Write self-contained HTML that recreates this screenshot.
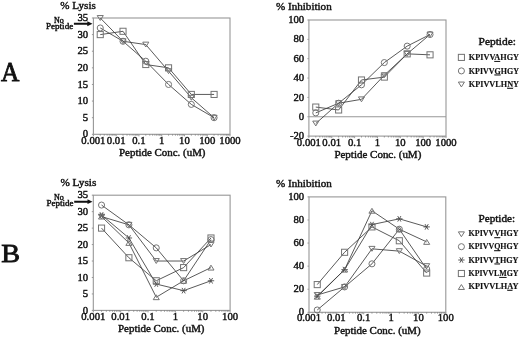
<!DOCTYPE html>
<html><head><meta charset="utf-8"><style>
html,body{margin:0;padding:0;background:#fff;}
body{width:520px;height:337px;overflow:hidden;}
svg{display:block;filter:grayscale(1) blur(0.25px);}
</style></head><body>
<svg width="520" height="337" viewBox="0 0 520 337" font-family='"Liberation Serif", serif' fill="#111">
<rect width="520" height="337" fill="#fff"/>
<g opacity="0.999">
<rect x="93.40" y="18.00" width="136.60" height="116.30" fill="none" stroke="#979797" stroke-width="1.1"/>
<line x1="91.90" y1="134.30" x2="93.40" y2="134.30" stroke="#979797" stroke-width="1"/>
<text x="88.20" y="137.40" font-size="10" text-anchor="end" font-weight="normal" stroke="#111" stroke-width="0.4" textLength="5.35" lengthAdjust="spacingAndGlyphs" >0</text>
<line x1="91.90" y1="117.69" x2="93.40" y2="117.69" stroke="#979797" stroke-width="1"/>
<text x="88.20" y="120.79" font-size="10" text-anchor="end" font-weight="normal" stroke="#111" stroke-width="0.4" textLength="5.35" lengthAdjust="spacingAndGlyphs" >5</text>
<line x1="91.90" y1="101.07" x2="93.40" y2="101.07" stroke="#979797" stroke-width="1"/>
<text x="88.20" y="104.17" font-size="10" text-anchor="end" font-weight="normal" stroke="#111" stroke-width="0.4" textLength="10.70" lengthAdjust="spacingAndGlyphs" >10</text>
<line x1="91.90" y1="84.46" x2="93.40" y2="84.46" stroke="#979797" stroke-width="1"/>
<text x="88.20" y="87.56" font-size="10" text-anchor="end" font-weight="normal" stroke="#111" stroke-width="0.4" textLength="10.70" lengthAdjust="spacingAndGlyphs" >15</text>
<line x1="91.90" y1="67.84" x2="93.40" y2="67.84" stroke="#979797" stroke-width="1"/>
<text x="88.20" y="70.94" font-size="10" text-anchor="end" font-weight="normal" stroke="#111" stroke-width="0.4" textLength="10.70" lengthAdjust="spacingAndGlyphs" >20</text>
<line x1="91.90" y1="51.23" x2="93.40" y2="51.23" stroke="#979797" stroke-width="1"/>
<text x="88.20" y="54.33" font-size="10" text-anchor="end" font-weight="normal" stroke="#111" stroke-width="0.4" textLength="10.70" lengthAdjust="spacingAndGlyphs" >25</text>
<line x1="91.90" y1="34.61" x2="93.40" y2="34.61" stroke="#979797" stroke-width="1"/>
<text x="88.20" y="37.71" font-size="10" text-anchor="end" font-weight="normal" stroke="#111" stroke-width="0.4" textLength="10.70" lengthAdjust="spacingAndGlyphs" >30</text>
<line x1="91.90" y1="18.00" x2="93.40" y2="18.00" stroke="#979797" stroke-width="1"/>
<text x="88.20" y="21.10" font-size="10" text-anchor="end" font-weight="normal" stroke="#111" stroke-width="0.4" textLength="10.70" lengthAdjust="spacingAndGlyphs" >35</text>
<line x1="93.40" y1="134.30" x2="93.40" y2="136.30" stroke="#979797" stroke-width="1"/>
<line x1="100.25" y1="134.30" x2="100.25" y2="135.70" stroke="#777" stroke-width="0.7"/>
<line x1="104.26" y1="134.30" x2="104.26" y2="135.70" stroke="#777" stroke-width="0.7"/>
<line x1="107.11" y1="134.30" x2="107.11" y2="135.70" stroke="#777" stroke-width="0.7"/>
<line x1="109.31" y1="134.30" x2="109.31" y2="135.70" stroke="#777" stroke-width="0.7"/>
<line x1="111.12" y1="134.30" x2="111.12" y2="135.70" stroke="#777" stroke-width="0.7"/>
<line x1="112.64" y1="134.30" x2="112.64" y2="135.70" stroke="#777" stroke-width="0.7"/>
<line x1="113.96" y1="134.30" x2="113.96" y2="135.70" stroke="#777" stroke-width="0.7"/>
<line x1="115.12" y1="134.30" x2="115.12" y2="135.70" stroke="#777" stroke-width="0.7"/>
<text x="93.40" y="143.60" font-size="10" text-anchor="middle" font-weight="normal" stroke="#111" stroke-width="0.4" textLength="24.08" lengthAdjust="spacingAndGlyphs" >0.001</text>
<line x1="116.17" y1="134.30" x2="116.17" y2="136.30" stroke="#979797" stroke-width="1"/>
<line x1="123.02" y1="134.30" x2="123.02" y2="135.70" stroke="#777" stroke-width="0.7"/>
<line x1="127.03" y1="134.30" x2="127.03" y2="135.70" stroke="#777" stroke-width="0.7"/>
<line x1="129.87" y1="134.30" x2="129.87" y2="135.70" stroke="#777" stroke-width="0.7"/>
<line x1="132.08" y1="134.30" x2="132.08" y2="135.70" stroke="#777" stroke-width="0.7"/>
<line x1="133.88" y1="134.30" x2="133.88" y2="135.70" stroke="#777" stroke-width="0.7"/>
<line x1="135.41" y1="134.30" x2="135.41" y2="135.70" stroke="#777" stroke-width="0.7"/>
<line x1="136.73" y1="134.30" x2="136.73" y2="135.70" stroke="#777" stroke-width="0.7"/>
<line x1="137.89" y1="134.30" x2="137.89" y2="135.70" stroke="#777" stroke-width="0.7"/>
<text x="116.17" y="143.60" font-size="10" text-anchor="middle" font-weight="normal" stroke="#111" stroke-width="0.4" textLength="18.73" lengthAdjust="spacingAndGlyphs" >0.01</text>
<line x1="138.93" y1="134.30" x2="138.93" y2="136.30" stroke="#979797" stroke-width="1"/>
<line x1="145.79" y1="134.30" x2="145.79" y2="135.70" stroke="#777" stroke-width="0.7"/>
<line x1="149.80" y1="134.30" x2="149.80" y2="135.70" stroke="#777" stroke-width="0.7"/>
<line x1="152.64" y1="134.30" x2="152.64" y2="135.70" stroke="#777" stroke-width="0.7"/>
<line x1="154.85" y1="134.30" x2="154.85" y2="135.70" stroke="#777" stroke-width="0.7"/>
<line x1="156.65" y1="134.30" x2="156.65" y2="135.70" stroke="#777" stroke-width="0.7"/>
<line x1="158.17" y1="134.30" x2="158.17" y2="135.70" stroke="#777" stroke-width="0.7"/>
<line x1="159.49" y1="134.30" x2="159.49" y2="135.70" stroke="#777" stroke-width="0.7"/>
<line x1="160.66" y1="134.30" x2="160.66" y2="135.70" stroke="#777" stroke-width="0.7"/>
<text x="138.93" y="143.60" font-size="10" text-anchor="middle" font-weight="normal" stroke="#111" stroke-width="0.4" textLength="13.38" lengthAdjust="spacingAndGlyphs" >0.1</text>
<line x1="161.70" y1="134.30" x2="161.70" y2="136.30" stroke="#979797" stroke-width="1"/>
<line x1="168.55" y1="134.30" x2="168.55" y2="135.70" stroke="#777" stroke-width="0.7"/>
<line x1="172.56" y1="134.30" x2="172.56" y2="135.70" stroke="#777" stroke-width="0.7"/>
<line x1="175.41" y1="134.30" x2="175.41" y2="135.70" stroke="#777" stroke-width="0.7"/>
<line x1="177.61" y1="134.30" x2="177.61" y2="135.70" stroke="#777" stroke-width="0.7"/>
<line x1="179.42" y1="134.30" x2="179.42" y2="135.70" stroke="#777" stroke-width="0.7"/>
<line x1="180.94" y1="134.30" x2="180.94" y2="135.70" stroke="#777" stroke-width="0.7"/>
<line x1="182.26" y1="134.30" x2="182.26" y2="135.70" stroke="#777" stroke-width="0.7"/>
<line x1="183.42" y1="134.30" x2="183.42" y2="135.70" stroke="#777" stroke-width="0.7"/>
<text x="161.70" y="143.60" font-size="10" text-anchor="middle" font-weight="normal" stroke="#111" stroke-width="0.4" textLength="5.35" lengthAdjust="spacingAndGlyphs" >1</text>
<line x1="184.47" y1="134.30" x2="184.47" y2="136.30" stroke="#979797" stroke-width="1"/>
<line x1="191.32" y1="134.30" x2="191.32" y2="135.70" stroke="#777" stroke-width="0.7"/>
<line x1="195.33" y1="134.30" x2="195.33" y2="135.70" stroke="#777" stroke-width="0.7"/>
<line x1="198.17" y1="134.30" x2="198.17" y2="135.70" stroke="#777" stroke-width="0.7"/>
<line x1="200.38" y1="134.30" x2="200.38" y2="135.70" stroke="#777" stroke-width="0.7"/>
<line x1="202.18" y1="134.30" x2="202.18" y2="135.70" stroke="#777" stroke-width="0.7"/>
<line x1="203.71" y1="134.30" x2="203.71" y2="135.70" stroke="#777" stroke-width="0.7"/>
<line x1="205.03" y1="134.30" x2="205.03" y2="135.70" stroke="#777" stroke-width="0.7"/>
<line x1="206.19" y1="134.30" x2="206.19" y2="135.70" stroke="#777" stroke-width="0.7"/>
<text x="184.47" y="143.60" font-size="10" text-anchor="middle" font-weight="normal" stroke="#111" stroke-width="0.4" textLength="10.70" lengthAdjust="spacingAndGlyphs" >10</text>
<line x1="207.23" y1="134.30" x2="207.23" y2="136.30" stroke="#979797" stroke-width="1"/>
<line x1="214.09" y1="134.30" x2="214.09" y2="135.70" stroke="#777" stroke-width="0.7"/>
<line x1="218.10" y1="134.30" x2="218.10" y2="135.70" stroke="#777" stroke-width="0.7"/>
<line x1="220.94" y1="134.30" x2="220.94" y2="135.70" stroke="#777" stroke-width="0.7"/>
<line x1="223.15" y1="134.30" x2="223.15" y2="135.70" stroke="#777" stroke-width="0.7"/>
<line x1="224.95" y1="134.30" x2="224.95" y2="135.70" stroke="#777" stroke-width="0.7"/>
<line x1="226.47" y1="134.30" x2="226.47" y2="135.70" stroke="#777" stroke-width="0.7"/>
<line x1="227.79" y1="134.30" x2="227.79" y2="135.70" stroke="#777" stroke-width="0.7"/>
<line x1="228.96" y1="134.30" x2="228.96" y2="135.70" stroke="#777" stroke-width="0.7"/>
<text x="207.23" y="143.60" font-size="10" text-anchor="middle" font-weight="normal" stroke="#111" stroke-width="0.4" textLength="16.05" lengthAdjust="spacingAndGlyphs" >100</text>
<line x1="230.00" y1="134.30" x2="230.00" y2="136.30" stroke="#979797" stroke-width="1"/>
<text x="230.00" y="143.60" font-size="10" text-anchor="middle" font-weight="normal" stroke="#111" stroke-width="0.4" textLength="21.40" lengthAdjust="spacingAndGlyphs" >1000</text>
<path d="M100.25,34.61 L123.02,31.29 L145.79,64.52 L168.55,67.84 L191.32,94.43 L214.09,94.43" fill="none" stroke="#3c3c3c" stroke-width="0.85"/>
<path d="M100.25,27.97 L123.02,41.26 L145.79,61.20 L168.55,84.46 L191.32,104.39 L214.09,117.69" fill="none" stroke="#3c3c3c" stroke-width="0.85"/>
<path d="M100.25,18.00 L123.02,41.26 L145.79,44.58 L168.55,71.17 L191.32,97.75 L214.09,117.69" fill="none" stroke="#3c3c3c" stroke-width="0.85"/>
<rect x="97.20" y="31.56" width="6.10" height="6.10" fill="none" stroke="#737373" stroke-width="1.0"/>
<rect x="119.97" y="28.24" width="6.10" height="6.10" fill="none" stroke="#737373" stroke-width="1.0"/>
<rect x="142.74" y="61.47" width="6.10" height="6.10" fill="none" stroke="#737373" stroke-width="1.0"/>
<rect x="165.50" y="64.79" width="6.10" height="6.10" fill="none" stroke="#737373" stroke-width="1.0"/>
<rect x="188.27" y="91.38" width="6.10" height="6.10" fill="none" stroke="#737373" stroke-width="1.0"/>
<rect x="211.04" y="91.38" width="6.10" height="6.10" fill="none" stroke="#737373" stroke-width="1.0"/>
<circle cx="100.25" cy="27.97" r="3.05" fill="none" stroke="#737373" stroke-width="1.0"/>
<circle cx="123.02" cy="41.26" r="3.05" fill="none" stroke="#737373" stroke-width="1.0"/>
<circle cx="145.79" cy="61.20" r="3.05" fill="none" stroke="#737373" stroke-width="1.0"/>
<circle cx="168.55" cy="84.46" r="3.05" fill="none" stroke="#737373" stroke-width="1.0"/>
<circle cx="191.32" cy="104.39" r="3.05" fill="none" stroke="#737373" stroke-width="1.0"/>
<circle cx="214.09" cy="117.69" r="3.05" fill="none" stroke="#737373" stroke-width="1.0"/>
<path d="M97.20,15.56 L103.30,15.56 L100.25,20.44 Z" fill="none" stroke="#737373" stroke-width="1.0"/>
<path d="M119.97,38.82 L126.07,38.82 L123.02,43.70 Z" fill="none" stroke="#737373" stroke-width="1.0"/>
<path d="M142.74,42.14 L148.84,42.14 L145.79,47.02 Z" fill="none" stroke="#737373" stroke-width="1.0"/>
<path d="M165.50,68.73 L171.60,68.73 L168.55,73.61 Z" fill="none" stroke="#737373" stroke-width="1.0"/>
<path d="M188.27,95.31 L194.37,95.31 L191.32,100.19 Z" fill="none" stroke="#737373" stroke-width="1.0"/>
<path d="M211.04,115.25 L217.14,115.25 L214.09,120.13 Z" fill="none" stroke="#737373" stroke-width="1.0"/>
<text x="60.30" y="8.70" font-size="10" text-anchor="start" font-weight="normal" stroke="#111" stroke-width="0.4" textLength="35.50" lengthAdjust="spacingAndGlyphs" >% Lysis</text>
<text x="58.80" y="22.50" font-size="8" text-anchor="middle" font-weight="normal" stroke="#111" stroke-width="0.4" >No</text>
<text x="46.00" y="28.50" font-size="8" text-anchor="start" font-weight="normal" stroke="#111" stroke-width="0.4" textLength="27.20" lengthAdjust="spacingAndGlyphs" >Peptide</text>
<path d="M73.9,22.7 L87.3,22.7 L87.3,21.2 L92.5,23.7 L87.3,26.2 L87.3,24.8 L73.9,24.8 Z" fill="#111"/>
<rect x="308.90" y="20.00" width="137.10" height="116.10" fill="none" stroke="#979797" stroke-width="1.1"/>
<line x1="308.90" y1="116.75" x2="446.00" y2="116.75" stroke="#979797" stroke-width="1.1"/>
<line x1="307.40" y1="136.10" x2="308.90" y2="136.10" stroke="#979797" stroke-width="1"/>
<text x="304.20" y="139.20" font-size="10" text-anchor="end" font-weight="normal" stroke="#111" stroke-width="0.4" textLength="14.26" lengthAdjust="spacingAndGlyphs" >-20</text>
<line x1="307.40" y1="116.75" x2="308.90" y2="116.75" stroke="#979797" stroke-width="1"/>
<text x="304.20" y="119.85" font-size="10" text-anchor="end" font-weight="normal" stroke="#111" stroke-width="0.4" textLength="5.35" lengthAdjust="spacingAndGlyphs" >0</text>
<line x1="307.40" y1="97.40" x2="308.90" y2="97.40" stroke="#979797" stroke-width="1"/>
<text x="304.20" y="100.50" font-size="10" text-anchor="end" font-weight="normal" stroke="#111" stroke-width="0.4" textLength="10.70" lengthAdjust="spacingAndGlyphs" >20</text>
<line x1="307.40" y1="78.05" x2="308.90" y2="78.05" stroke="#979797" stroke-width="1"/>
<text x="304.20" y="81.15" font-size="10" text-anchor="end" font-weight="normal" stroke="#111" stroke-width="0.4" textLength="10.70" lengthAdjust="spacingAndGlyphs" >40</text>
<line x1="307.40" y1="58.70" x2="308.90" y2="58.70" stroke="#979797" stroke-width="1"/>
<text x="304.20" y="61.80" font-size="10" text-anchor="end" font-weight="normal" stroke="#111" stroke-width="0.4" textLength="10.70" lengthAdjust="spacingAndGlyphs" >60</text>
<line x1="307.40" y1="39.35" x2="308.90" y2="39.35" stroke="#979797" stroke-width="1"/>
<text x="304.20" y="42.45" font-size="10" text-anchor="end" font-weight="normal" stroke="#111" stroke-width="0.4" textLength="10.70" lengthAdjust="spacingAndGlyphs" >80</text>
<line x1="307.40" y1="20.00" x2="308.90" y2="20.00" stroke="#979797" stroke-width="1"/>
<text x="304.20" y="23.10" font-size="10" text-anchor="end" font-weight="normal" stroke="#111" stroke-width="0.4" textLength="16.05" lengthAdjust="spacingAndGlyphs" >100</text>
<line x1="308.90" y1="136.10" x2="308.90" y2="138.10" stroke="#979797" stroke-width="1"/>
<line x1="315.78" y1="136.10" x2="315.78" y2="137.50" stroke="#777" stroke-width="0.7"/>
<line x1="319.80" y1="136.10" x2="319.80" y2="137.50" stroke="#777" stroke-width="0.7"/>
<line x1="322.66" y1="136.10" x2="322.66" y2="137.50" stroke="#777" stroke-width="0.7"/>
<line x1="324.87" y1="136.10" x2="324.87" y2="137.50" stroke="#777" stroke-width="0.7"/>
<line x1="326.68" y1="136.10" x2="326.68" y2="137.50" stroke="#777" stroke-width="0.7"/>
<line x1="328.21" y1="136.10" x2="328.21" y2="137.50" stroke="#777" stroke-width="0.7"/>
<line x1="329.54" y1="136.10" x2="329.54" y2="137.50" stroke="#777" stroke-width="0.7"/>
<line x1="330.70" y1="136.10" x2="330.70" y2="137.50" stroke="#777" stroke-width="0.7"/>
<text x="308.90" y="146.20" font-size="10" text-anchor="middle" font-weight="normal" stroke="#111" stroke-width="0.4" textLength="24.08" lengthAdjust="spacingAndGlyphs" >0.001</text>
<line x1="331.75" y1="136.10" x2="331.75" y2="138.10" stroke="#979797" stroke-width="1"/>
<line x1="338.63" y1="136.10" x2="338.63" y2="137.50" stroke="#777" stroke-width="0.7"/>
<line x1="342.65" y1="136.10" x2="342.65" y2="137.50" stroke="#777" stroke-width="0.7"/>
<line x1="345.51" y1="136.10" x2="345.51" y2="137.50" stroke="#777" stroke-width="0.7"/>
<line x1="347.72" y1="136.10" x2="347.72" y2="137.50" stroke="#777" stroke-width="0.7"/>
<line x1="349.53" y1="136.10" x2="349.53" y2="137.50" stroke="#777" stroke-width="0.7"/>
<line x1="351.06" y1="136.10" x2="351.06" y2="137.50" stroke="#777" stroke-width="0.7"/>
<line x1="352.39" y1="136.10" x2="352.39" y2="137.50" stroke="#777" stroke-width="0.7"/>
<line x1="353.55" y1="136.10" x2="353.55" y2="137.50" stroke="#777" stroke-width="0.7"/>
<text x="331.75" y="146.20" font-size="10" text-anchor="middle" font-weight="normal" stroke="#111" stroke-width="0.4" textLength="18.73" lengthAdjust="spacingAndGlyphs" >0.01</text>
<line x1="354.60" y1="136.10" x2="354.60" y2="138.10" stroke="#979797" stroke-width="1"/>
<line x1="361.48" y1="136.10" x2="361.48" y2="137.50" stroke="#777" stroke-width="0.7"/>
<line x1="365.50" y1="136.10" x2="365.50" y2="137.50" stroke="#777" stroke-width="0.7"/>
<line x1="368.36" y1="136.10" x2="368.36" y2="137.50" stroke="#777" stroke-width="0.7"/>
<line x1="370.57" y1="136.10" x2="370.57" y2="137.50" stroke="#777" stroke-width="0.7"/>
<line x1="372.38" y1="136.10" x2="372.38" y2="137.50" stroke="#777" stroke-width="0.7"/>
<line x1="373.91" y1="136.10" x2="373.91" y2="137.50" stroke="#777" stroke-width="0.7"/>
<line x1="375.24" y1="136.10" x2="375.24" y2="137.50" stroke="#777" stroke-width="0.7"/>
<line x1="376.40" y1="136.10" x2="376.40" y2="137.50" stroke="#777" stroke-width="0.7"/>
<text x="354.60" y="146.20" font-size="10" text-anchor="middle" font-weight="normal" stroke="#111" stroke-width="0.4" textLength="13.38" lengthAdjust="spacingAndGlyphs" >0.1</text>
<line x1="377.45" y1="136.10" x2="377.45" y2="138.10" stroke="#979797" stroke-width="1"/>
<line x1="384.33" y1="136.10" x2="384.33" y2="137.50" stroke="#777" stroke-width="0.7"/>
<line x1="388.35" y1="136.10" x2="388.35" y2="137.50" stroke="#777" stroke-width="0.7"/>
<line x1="391.21" y1="136.10" x2="391.21" y2="137.50" stroke="#777" stroke-width="0.7"/>
<line x1="393.42" y1="136.10" x2="393.42" y2="137.50" stroke="#777" stroke-width="0.7"/>
<line x1="395.23" y1="136.10" x2="395.23" y2="137.50" stroke="#777" stroke-width="0.7"/>
<line x1="396.76" y1="136.10" x2="396.76" y2="137.50" stroke="#777" stroke-width="0.7"/>
<line x1="398.09" y1="136.10" x2="398.09" y2="137.50" stroke="#777" stroke-width="0.7"/>
<line x1="399.25" y1="136.10" x2="399.25" y2="137.50" stroke="#777" stroke-width="0.7"/>
<text x="377.45" y="146.20" font-size="10" text-anchor="middle" font-weight="normal" stroke="#111" stroke-width="0.4" textLength="5.35" lengthAdjust="spacingAndGlyphs" >1</text>
<line x1="400.30" y1="136.10" x2="400.30" y2="138.10" stroke="#979797" stroke-width="1"/>
<line x1="407.18" y1="136.10" x2="407.18" y2="137.50" stroke="#777" stroke-width="0.7"/>
<line x1="411.20" y1="136.10" x2="411.20" y2="137.50" stroke="#777" stroke-width="0.7"/>
<line x1="414.06" y1="136.10" x2="414.06" y2="137.50" stroke="#777" stroke-width="0.7"/>
<line x1="416.27" y1="136.10" x2="416.27" y2="137.50" stroke="#777" stroke-width="0.7"/>
<line x1="418.08" y1="136.10" x2="418.08" y2="137.50" stroke="#777" stroke-width="0.7"/>
<line x1="419.61" y1="136.10" x2="419.61" y2="137.50" stroke="#777" stroke-width="0.7"/>
<line x1="420.94" y1="136.10" x2="420.94" y2="137.50" stroke="#777" stroke-width="0.7"/>
<line x1="422.10" y1="136.10" x2="422.10" y2="137.50" stroke="#777" stroke-width="0.7"/>
<text x="400.30" y="146.20" font-size="10" text-anchor="middle" font-weight="normal" stroke="#111" stroke-width="0.4" textLength="10.70" lengthAdjust="spacingAndGlyphs" >10</text>
<line x1="423.15" y1="136.10" x2="423.15" y2="138.10" stroke="#979797" stroke-width="1"/>
<line x1="430.03" y1="136.10" x2="430.03" y2="137.50" stroke="#777" stroke-width="0.7"/>
<line x1="434.05" y1="136.10" x2="434.05" y2="137.50" stroke="#777" stroke-width="0.7"/>
<line x1="436.91" y1="136.10" x2="436.91" y2="137.50" stroke="#777" stroke-width="0.7"/>
<line x1="439.12" y1="136.10" x2="439.12" y2="137.50" stroke="#777" stroke-width="0.7"/>
<line x1="440.93" y1="136.10" x2="440.93" y2="137.50" stroke="#777" stroke-width="0.7"/>
<line x1="442.46" y1="136.10" x2="442.46" y2="137.50" stroke="#777" stroke-width="0.7"/>
<line x1="443.79" y1="136.10" x2="443.79" y2="137.50" stroke="#777" stroke-width="0.7"/>
<line x1="444.95" y1="136.10" x2="444.95" y2="137.50" stroke="#777" stroke-width="0.7"/>
<text x="423.15" y="146.20" font-size="10" text-anchor="middle" font-weight="normal" stroke="#111" stroke-width="0.4" textLength="16.05" lengthAdjust="spacingAndGlyphs" >100</text>
<line x1="446.00" y1="136.10" x2="446.00" y2="138.10" stroke="#979797" stroke-width="1"/>
<text x="446.00" y="146.20" font-size="10" text-anchor="middle" font-weight="normal" stroke="#111" stroke-width="0.4" textLength="21.40" lengthAdjust="spacingAndGlyphs" >1000</text>
<path d="M315.78,107.07 L338.63,109.98 L361.48,79.98 L384.33,77.08 L407.18,53.86 L430.03,54.83" fill="none" stroke="#3c3c3c" stroke-width="0.85"/>
<path d="M315.78,112.88 L338.63,103.20 L361.48,84.82 L384.33,62.57 L407.18,46.12 L430.03,34.51" fill="none" stroke="#3c3c3c" stroke-width="0.85"/>
<path d="M315.78,123.52 L338.63,103.20 L361.48,99.34 L384.33,75.15 L407.18,53.86 L430.03,34.51" fill="none" stroke="#3c3c3c" stroke-width="0.85"/>
<rect x="312.73" y="104.02" width="6.10" height="6.10" fill="none" stroke="#737373" stroke-width="1.0"/>
<rect x="335.58" y="106.93" width="6.10" height="6.10" fill="none" stroke="#737373" stroke-width="1.0"/>
<rect x="358.43" y="76.94" width="6.10" height="6.10" fill="none" stroke="#737373" stroke-width="1.0"/>
<rect x="381.28" y="74.03" width="6.10" height="6.10" fill="none" stroke="#737373" stroke-width="1.0"/>
<rect x="404.13" y="50.81" width="6.10" height="6.10" fill="none" stroke="#737373" stroke-width="1.0"/>
<rect x="426.98" y="51.78" width="6.10" height="6.10" fill="none" stroke="#737373" stroke-width="1.0"/>
<circle cx="315.78" cy="112.88" r="3.05" fill="none" stroke="#737373" stroke-width="1.0"/>
<circle cx="338.63" cy="103.20" r="3.05" fill="none" stroke="#737373" stroke-width="1.0"/>
<circle cx="361.48" cy="84.82" r="3.05" fill="none" stroke="#737373" stroke-width="1.0"/>
<circle cx="384.33" cy="62.57" r="3.05" fill="none" stroke="#737373" stroke-width="1.0"/>
<circle cx="407.18" cy="46.12" r="3.05" fill="none" stroke="#737373" stroke-width="1.0"/>
<circle cx="430.03" cy="34.51" r="3.05" fill="none" stroke="#737373" stroke-width="1.0"/>
<path d="M312.73,121.08 L318.83,121.08 L315.78,125.96 Z" fill="none" stroke="#737373" stroke-width="1.0"/>
<path d="M335.58,100.77 L341.68,100.77 L338.63,105.64 Z" fill="none" stroke="#737373" stroke-width="1.0"/>
<path d="M358.43,96.90 L364.53,96.90 L361.48,101.78 Z" fill="none" stroke="#737373" stroke-width="1.0"/>
<path d="M381.28,72.71 L387.38,72.71 L384.33,77.59 Z" fill="none" stroke="#737373" stroke-width="1.0"/>
<path d="M404.13,51.42 L410.23,51.42 L407.18,56.30 Z" fill="none" stroke="#737373" stroke-width="1.0"/>
<path d="M426.98,32.07 L433.08,32.07 L430.03,36.95 Z" fill="none" stroke="#737373" stroke-width="1.0"/>
<text x="276.00" y="10.10" font-size="10" text-anchor="start" font-weight="normal" stroke="#111" stroke-width="0.4" textLength="55.70" lengthAdjust="spacingAndGlyphs" >% Inhibition</text>
<text x="334.40" y="157.70" font-size="10" text-anchor="start" font-weight="normal" stroke="#111" stroke-width="0.4" textLength="86.90" lengthAdjust="spacingAndGlyphs" >Peptide Conc. (uM)</text>
<text x="119.00" y="156.30" font-size="10" text-anchor="start" font-weight="normal" stroke="#111" stroke-width="0.4" textLength="86.50" lengthAdjust="spacingAndGlyphs" >Peptide Conc. (uM)</text>
<text x="478.60" y="45.00" font-size="10" text-anchor="start" font-weight="normal" stroke="#111" stroke-width="0.4" textLength="37.30" lengthAdjust="spacingAndGlyphs" >Peptide:</text>
<rect x="458.35" y="54.35" width="6.10" height="6.10" fill="none" stroke="#737373" stroke-width="1.0"/>
<text x="468.80" y="60.00" font-size="9" text-anchor="start" font-weight="bold" stroke="#111" stroke-width="0.4" textLength="50.20" lengthAdjust="spacingAndGlyphs" style="stroke-width:0.15">KPIVV<tspan text-decoration="underline">A</tspan>HGY</text>
<circle cx="461.40" cy="70.90" r="3.05" fill="none" stroke="#737373" stroke-width="1.0"/>
<text x="468.80" y="73.50" font-size="9" text-anchor="start" font-weight="bold" stroke="#111" stroke-width="0.4" textLength="50.20" lengthAdjust="spacingAndGlyphs" style="stroke-width:0.15">KPIVV<tspan text-decoration="underline">G</tspan>HGY</text>
<path d="M458.35,82.06 L464.45,82.06 L461.40,86.94 Z" fill="none" stroke="#737373" stroke-width="1.0"/>
<text x="468.80" y="86.90" font-size="9" text-anchor="start" font-weight="bold" stroke="#111" stroke-width="0.4" textLength="50.20" lengthAdjust="spacingAndGlyphs" style="stroke-width:0.15">KPIVVLH<tspan text-decoration="underline">N</tspan>Y</text>
<rect x="93.30" y="195.20" width="136.80" height="115.20" fill="none" stroke="#979797" stroke-width="1.1"/>
<line x1="91.80" y1="310.40" x2="93.30" y2="310.40" stroke="#979797" stroke-width="1"/>
<text x="88.20" y="313.50" font-size="10" text-anchor="end" font-weight="normal" stroke="#111" stroke-width="0.4" textLength="5.35" lengthAdjust="spacingAndGlyphs" >0</text>
<line x1="91.80" y1="293.94" x2="93.30" y2="293.94" stroke="#979797" stroke-width="1"/>
<text x="88.20" y="297.04" font-size="10" text-anchor="end" font-weight="normal" stroke="#111" stroke-width="0.4" textLength="5.35" lengthAdjust="spacingAndGlyphs" >5</text>
<line x1="91.80" y1="277.49" x2="93.30" y2="277.49" stroke="#979797" stroke-width="1"/>
<text x="88.20" y="280.59" font-size="10" text-anchor="end" font-weight="normal" stroke="#111" stroke-width="0.4" textLength="10.70" lengthAdjust="spacingAndGlyphs" >10</text>
<line x1="91.80" y1="261.03" x2="93.30" y2="261.03" stroke="#979797" stroke-width="1"/>
<text x="88.20" y="264.13" font-size="10" text-anchor="end" font-weight="normal" stroke="#111" stroke-width="0.4" textLength="10.70" lengthAdjust="spacingAndGlyphs" >15</text>
<line x1="91.80" y1="244.57" x2="93.30" y2="244.57" stroke="#979797" stroke-width="1"/>
<text x="88.20" y="247.67" font-size="10" text-anchor="end" font-weight="normal" stroke="#111" stroke-width="0.4" textLength="10.70" lengthAdjust="spacingAndGlyphs" >20</text>
<line x1="91.80" y1="228.11" x2="93.30" y2="228.11" stroke="#979797" stroke-width="1"/>
<text x="88.20" y="231.21" font-size="10" text-anchor="end" font-weight="normal" stroke="#111" stroke-width="0.4" textLength="10.70" lengthAdjust="spacingAndGlyphs" >25</text>
<line x1="91.80" y1="211.66" x2="93.30" y2="211.66" stroke="#979797" stroke-width="1"/>
<text x="88.20" y="214.76" font-size="10" text-anchor="end" font-weight="normal" stroke="#111" stroke-width="0.4" textLength="10.70" lengthAdjust="spacingAndGlyphs" >30</text>
<line x1="91.80" y1="195.20" x2="93.30" y2="195.20" stroke="#979797" stroke-width="1"/>
<text x="88.20" y="198.30" font-size="10" text-anchor="end" font-weight="normal" stroke="#111" stroke-width="0.4" textLength="10.70" lengthAdjust="spacingAndGlyphs" >35</text>
<line x1="93.30" y1="310.40" x2="93.30" y2="312.40" stroke="#979797" stroke-width="1"/>
<line x1="101.54" y1="310.40" x2="101.54" y2="311.80" stroke="#777" stroke-width="0.7"/>
<line x1="106.35" y1="310.40" x2="106.35" y2="311.80" stroke="#777" stroke-width="0.7"/>
<line x1="109.77" y1="310.40" x2="109.77" y2="311.80" stroke="#777" stroke-width="0.7"/>
<line x1="112.42" y1="310.40" x2="112.42" y2="311.80" stroke="#777" stroke-width="0.7"/>
<line x1="114.59" y1="310.40" x2="114.59" y2="311.80" stroke="#777" stroke-width="0.7"/>
<line x1="116.42" y1="310.40" x2="116.42" y2="311.80" stroke="#777" stroke-width="0.7"/>
<line x1="118.01" y1="310.40" x2="118.01" y2="311.80" stroke="#777" stroke-width="0.7"/>
<line x1="119.41" y1="310.40" x2="119.41" y2="311.80" stroke="#777" stroke-width="0.7"/>
<text x="93.30" y="319.70" font-size="10" text-anchor="middle" font-weight="normal" stroke="#111" stroke-width="0.4" textLength="24.08" lengthAdjust="spacingAndGlyphs" >0.001</text>
<line x1="120.66" y1="310.40" x2="120.66" y2="312.40" stroke="#979797" stroke-width="1"/>
<line x1="128.90" y1="310.40" x2="128.90" y2="311.80" stroke="#777" stroke-width="0.7"/>
<line x1="133.71" y1="310.40" x2="133.71" y2="311.80" stroke="#777" stroke-width="0.7"/>
<line x1="137.13" y1="310.40" x2="137.13" y2="311.80" stroke="#777" stroke-width="0.7"/>
<line x1="139.78" y1="310.40" x2="139.78" y2="311.80" stroke="#777" stroke-width="0.7"/>
<line x1="141.95" y1="310.40" x2="141.95" y2="311.80" stroke="#777" stroke-width="0.7"/>
<line x1="143.78" y1="310.40" x2="143.78" y2="311.80" stroke="#777" stroke-width="0.7"/>
<line x1="145.37" y1="310.40" x2="145.37" y2="311.80" stroke="#777" stroke-width="0.7"/>
<line x1="146.77" y1="310.40" x2="146.77" y2="311.80" stroke="#777" stroke-width="0.7"/>
<text x="120.66" y="319.70" font-size="10" text-anchor="middle" font-weight="normal" stroke="#111" stroke-width="0.4" textLength="18.73" lengthAdjust="spacingAndGlyphs" >0.01</text>
<line x1="148.02" y1="310.40" x2="148.02" y2="312.40" stroke="#979797" stroke-width="1"/>
<line x1="156.26" y1="310.40" x2="156.26" y2="311.80" stroke="#777" stroke-width="0.7"/>
<line x1="161.07" y1="310.40" x2="161.07" y2="311.80" stroke="#777" stroke-width="0.7"/>
<line x1="164.49" y1="310.40" x2="164.49" y2="311.80" stroke="#777" stroke-width="0.7"/>
<line x1="167.14" y1="310.40" x2="167.14" y2="311.80" stroke="#777" stroke-width="0.7"/>
<line x1="169.31" y1="310.40" x2="169.31" y2="311.80" stroke="#777" stroke-width="0.7"/>
<line x1="171.14" y1="310.40" x2="171.14" y2="311.80" stroke="#777" stroke-width="0.7"/>
<line x1="172.73" y1="310.40" x2="172.73" y2="311.80" stroke="#777" stroke-width="0.7"/>
<line x1="174.13" y1="310.40" x2="174.13" y2="311.80" stroke="#777" stroke-width="0.7"/>
<text x="148.02" y="319.70" font-size="10" text-anchor="middle" font-weight="normal" stroke="#111" stroke-width="0.4" textLength="13.38" lengthAdjust="spacingAndGlyphs" >0.1</text>
<line x1="175.38" y1="310.40" x2="175.38" y2="312.40" stroke="#979797" stroke-width="1"/>
<line x1="183.62" y1="310.40" x2="183.62" y2="311.80" stroke="#777" stroke-width="0.7"/>
<line x1="188.43" y1="310.40" x2="188.43" y2="311.80" stroke="#777" stroke-width="0.7"/>
<line x1="191.85" y1="310.40" x2="191.85" y2="311.80" stroke="#777" stroke-width="0.7"/>
<line x1="194.50" y1="310.40" x2="194.50" y2="311.80" stroke="#777" stroke-width="0.7"/>
<line x1="196.67" y1="310.40" x2="196.67" y2="311.80" stroke="#777" stroke-width="0.7"/>
<line x1="198.50" y1="310.40" x2="198.50" y2="311.80" stroke="#777" stroke-width="0.7"/>
<line x1="200.09" y1="310.40" x2="200.09" y2="311.80" stroke="#777" stroke-width="0.7"/>
<line x1="201.49" y1="310.40" x2="201.49" y2="311.80" stroke="#777" stroke-width="0.7"/>
<text x="175.38" y="319.70" font-size="10" text-anchor="middle" font-weight="normal" stroke="#111" stroke-width="0.4" textLength="5.35" lengthAdjust="spacingAndGlyphs" >1</text>
<line x1="202.74" y1="310.40" x2="202.74" y2="312.40" stroke="#979797" stroke-width="1"/>
<line x1="210.98" y1="310.40" x2="210.98" y2="311.80" stroke="#777" stroke-width="0.7"/>
<line x1="215.79" y1="310.40" x2="215.79" y2="311.80" stroke="#777" stroke-width="0.7"/>
<line x1="219.21" y1="310.40" x2="219.21" y2="311.80" stroke="#777" stroke-width="0.7"/>
<line x1="221.86" y1="310.40" x2="221.86" y2="311.80" stroke="#777" stroke-width="0.7"/>
<line x1="224.03" y1="310.40" x2="224.03" y2="311.80" stroke="#777" stroke-width="0.7"/>
<line x1="225.86" y1="310.40" x2="225.86" y2="311.80" stroke="#777" stroke-width="0.7"/>
<line x1="227.45" y1="310.40" x2="227.45" y2="311.80" stroke="#777" stroke-width="0.7"/>
<line x1="228.85" y1="310.40" x2="228.85" y2="311.80" stroke="#777" stroke-width="0.7"/>
<text x="202.74" y="319.70" font-size="10" text-anchor="middle" font-weight="normal" stroke="#111" stroke-width="0.4" textLength="10.70" lengthAdjust="spacingAndGlyphs" >10</text>
<line x1="230.10" y1="310.40" x2="230.10" y2="312.40" stroke="#979797" stroke-width="1"/>
<text x="230.10" y="319.70" font-size="10" text-anchor="middle" font-weight="normal" stroke="#111" stroke-width="0.4" textLength="16.05" lengthAdjust="spacingAndGlyphs" >100</text>
<path d="M101.54,216.59 L128.90,224.82 L156.26,261.03 L183.62,261.03 L210.98,244.57" fill="none" stroke="#3c3c3c" stroke-width="0.85"/>
<path d="M101.54,205.07 L128.90,224.82 L156.26,247.86 L183.62,280.78 L210.98,239.63" fill="none" stroke="#3c3c3c" stroke-width="0.85"/>
<path d="M101.54,214.95 L128.90,237.99 L156.26,284.07 L183.62,290.65 L210.98,280.78" fill="none" stroke="#3c3c3c" stroke-width="0.85"/>
<path d="M101.54,228.11 L128.90,257.74 L156.26,280.78 L183.62,267.61 L210.98,237.99" fill="none" stroke="#3c3c3c" stroke-width="0.85"/>
<path d="M101.54,216.59 L128.90,242.93 L156.26,297.23 L183.62,280.78 L210.98,267.61" fill="none" stroke="#3c3c3c" stroke-width="0.85"/>
<path d="M98.49,214.15 L104.59,214.15 L101.54,219.03 Z" fill="none" stroke="#737373" stroke-width="1.0"/>
<path d="M125.85,222.38 L131.95,222.38 L128.90,227.26 Z" fill="none" stroke="#737373" stroke-width="1.0"/>
<path d="M153.21,258.59 L159.31,258.59 L156.26,263.47 Z" fill="none" stroke="#737373" stroke-width="1.0"/>
<path d="M180.57,258.59 L186.67,258.59 L183.62,263.47 Z" fill="none" stroke="#737373" stroke-width="1.0"/>
<path d="M207.93,242.13 L214.03,242.13 L210.98,247.01 Z" fill="none" stroke="#737373" stroke-width="1.0"/>
<circle cx="101.54" cy="205.07" r="3.05" fill="none" stroke="#737373" stroke-width="1.0"/>
<circle cx="128.90" cy="224.82" r="3.05" fill="none" stroke="#737373" stroke-width="1.0"/>
<circle cx="156.26" cy="247.86" r="3.05" fill="none" stroke="#737373" stroke-width="1.0"/>
<circle cx="183.62" cy="280.78" r="3.05" fill="none" stroke="#737373" stroke-width="1.0"/>
<circle cx="210.98" cy="239.63" r="3.05" fill="none" stroke="#737373" stroke-width="1.0"/>
<path d="M98.33,214.95 L104.74,214.95 M99.93,212.18 L103.14,217.72 M103.14,212.18 L99.93,217.72" fill="none" stroke="#4a4a4a" stroke-width="0.9"/>
<path d="M125.69,237.99 L132.10,237.99 M127.29,235.22 L130.50,240.76 M130.50,235.22 L127.29,240.76" fill="none" stroke="#4a4a4a" stroke-width="0.9"/>
<path d="M153.05,284.07 L159.46,284.07 M154.65,281.30 L157.86,286.84 M157.86,281.30 L154.65,286.84" fill="none" stroke="#4a4a4a" stroke-width="0.9"/>
<path d="M180.41,290.65 L186.82,290.65 M182.01,287.88 L185.22,293.42 M185.22,287.88 L182.01,293.42" fill="none" stroke="#4a4a4a" stroke-width="0.9"/>
<path d="M207.77,280.78 L214.18,280.78 M209.37,278.00 L212.58,283.55 M212.58,278.00 L209.37,283.55" fill="none" stroke="#4a4a4a" stroke-width="0.9"/>
<rect x="98.49" y="225.06" width="6.10" height="6.10" fill="none" stroke="#737373" stroke-width="1.0"/>
<rect x="125.85" y="254.69" width="6.10" height="6.10" fill="none" stroke="#737373" stroke-width="1.0"/>
<rect x="153.21" y="277.73" width="6.10" height="6.10" fill="none" stroke="#737373" stroke-width="1.0"/>
<rect x="180.57" y="264.56" width="6.10" height="6.10" fill="none" stroke="#737373" stroke-width="1.0"/>
<rect x="207.93" y="234.94" width="6.10" height="6.10" fill="none" stroke="#737373" stroke-width="1.0"/>
<path d="M98.49,219.03 L104.59,219.03 L101.54,214.15 Z" fill="none" stroke="#737373" stroke-width="1.0"/>
<path d="M125.85,245.37 L131.95,245.37 L128.90,240.49 Z" fill="none" stroke="#737373" stroke-width="1.0"/>
<path d="M153.21,299.67 L159.31,299.67 L156.26,294.79 Z" fill="none" stroke="#737373" stroke-width="1.0"/>
<path d="M180.57,283.22 L186.67,283.22 L183.62,278.34 Z" fill="none" stroke="#737373" stroke-width="1.0"/>
<path d="M207.93,270.05 L214.03,270.05 L210.98,265.17 Z" fill="none" stroke="#737373" stroke-width="1.0"/>
<text x="60.40" y="185.50" font-size="10" text-anchor="start" font-weight="normal" stroke="#111" stroke-width="0.4" textLength="36.00" lengthAdjust="spacingAndGlyphs" >% Lysis</text>
<text x="58.90" y="199.90" font-size="8" text-anchor="middle" font-weight="normal" stroke="#111" stroke-width="0.4" >No</text>
<text x="46.40" y="206.00" font-size="8" text-anchor="start" font-weight="normal" stroke="#111" stroke-width="0.4" textLength="27.00" lengthAdjust="spacingAndGlyphs" >Peptide</text>
<path d="M74.2,200.7 L87.5,200.7 L87.5,199.3 L92.5,201.7 L87.5,204.1 L87.5,202.7 L74.2,202.7 Z" fill="#111"/>
<text x="118.00" y="332.00" font-size="10" text-anchor="start" font-weight="normal" stroke="#111" stroke-width="0.4" textLength="86.50" lengthAdjust="spacingAndGlyphs" >Peptide Conc. (uM)</text>
<rect x="309.00" y="196.90" width="136.80" height="115.40" fill="none" stroke="#979797" stroke-width="1.1"/>
<line x1="307.50" y1="312.30" x2="309.00" y2="312.30" stroke="#979797" stroke-width="1"/>
<text x="304.20" y="315.40" font-size="10" text-anchor="end" font-weight="normal" stroke="#111" stroke-width="0.4" textLength="5.35" lengthAdjust="spacingAndGlyphs" >0</text>
<line x1="307.50" y1="289.22" x2="309.00" y2="289.22" stroke="#979797" stroke-width="1"/>
<text x="304.20" y="292.32" font-size="10" text-anchor="end" font-weight="normal" stroke="#111" stroke-width="0.4" textLength="10.70" lengthAdjust="spacingAndGlyphs" >20</text>
<line x1="307.50" y1="266.14" x2="309.00" y2="266.14" stroke="#979797" stroke-width="1"/>
<text x="304.20" y="269.24" font-size="10" text-anchor="end" font-weight="normal" stroke="#111" stroke-width="0.4" textLength="10.70" lengthAdjust="spacingAndGlyphs" >40</text>
<line x1="307.50" y1="243.06" x2="309.00" y2="243.06" stroke="#979797" stroke-width="1"/>
<text x="304.20" y="246.16" font-size="10" text-anchor="end" font-weight="normal" stroke="#111" stroke-width="0.4" textLength="10.70" lengthAdjust="spacingAndGlyphs" >60</text>
<line x1="307.50" y1="219.98" x2="309.00" y2="219.98" stroke="#979797" stroke-width="1"/>
<text x="304.20" y="223.08" font-size="10" text-anchor="end" font-weight="normal" stroke="#111" stroke-width="0.4" textLength="10.70" lengthAdjust="spacingAndGlyphs" >80</text>
<line x1="307.50" y1="196.90" x2="309.00" y2="196.90" stroke="#979797" stroke-width="1"/>
<text x="304.20" y="200.00" font-size="10" text-anchor="end" font-weight="normal" stroke="#111" stroke-width="0.4" textLength="16.05" lengthAdjust="spacingAndGlyphs" >100</text>
<line x1="309.00" y1="312.30" x2="309.00" y2="314.30" stroke="#979797" stroke-width="1"/>
<line x1="317.24" y1="312.30" x2="317.24" y2="313.70" stroke="#777" stroke-width="0.7"/>
<line x1="322.05" y1="312.30" x2="322.05" y2="313.70" stroke="#777" stroke-width="0.7"/>
<line x1="325.47" y1="312.30" x2="325.47" y2="313.70" stroke="#777" stroke-width="0.7"/>
<line x1="328.12" y1="312.30" x2="328.12" y2="313.70" stroke="#777" stroke-width="0.7"/>
<line x1="330.29" y1="312.30" x2="330.29" y2="313.70" stroke="#777" stroke-width="0.7"/>
<line x1="332.12" y1="312.30" x2="332.12" y2="313.70" stroke="#777" stroke-width="0.7"/>
<line x1="333.71" y1="312.30" x2="333.71" y2="313.70" stroke="#777" stroke-width="0.7"/>
<line x1="335.11" y1="312.30" x2="335.11" y2="313.70" stroke="#777" stroke-width="0.7"/>
<text x="309.00" y="321.20" font-size="10" text-anchor="middle" font-weight="normal" stroke="#111" stroke-width="0.4" textLength="24.08" lengthAdjust="spacingAndGlyphs" >0.001</text>
<line x1="336.36" y1="312.30" x2="336.36" y2="314.30" stroke="#979797" stroke-width="1"/>
<line x1="344.60" y1="312.30" x2="344.60" y2="313.70" stroke="#777" stroke-width="0.7"/>
<line x1="349.41" y1="312.30" x2="349.41" y2="313.70" stroke="#777" stroke-width="0.7"/>
<line x1="352.83" y1="312.30" x2="352.83" y2="313.70" stroke="#777" stroke-width="0.7"/>
<line x1="355.48" y1="312.30" x2="355.48" y2="313.70" stroke="#777" stroke-width="0.7"/>
<line x1="357.65" y1="312.30" x2="357.65" y2="313.70" stroke="#777" stroke-width="0.7"/>
<line x1="359.48" y1="312.30" x2="359.48" y2="313.70" stroke="#777" stroke-width="0.7"/>
<line x1="361.07" y1="312.30" x2="361.07" y2="313.70" stroke="#777" stroke-width="0.7"/>
<line x1="362.47" y1="312.30" x2="362.47" y2="313.70" stroke="#777" stroke-width="0.7"/>
<text x="336.36" y="321.20" font-size="10" text-anchor="middle" font-weight="normal" stroke="#111" stroke-width="0.4" textLength="18.73" lengthAdjust="spacingAndGlyphs" >0.01</text>
<line x1="363.72" y1="312.30" x2="363.72" y2="314.30" stroke="#979797" stroke-width="1"/>
<line x1="371.96" y1="312.30" x2="371.96" y2="313.70" stroke="#777" stroke-width="0.7"/>
<line x1="376.77" y1="312.30" x2="376.77" y2="313.70" stroke="#777" stroke-width="0.7"/>
<line x1="380.19" y1="312.30" x2="380.19" y2="313.70" stroke="#777" stroke-width="0.7"/>
<line x1="382.84" y1="312.30" x2="382.84" y2="313.70" stroke="#777" stroke-width="0.7"/>
<line x1="385.01" y1="312.30" x2="385.01" y2="313.70" stroke="#777" stroke-width="0.7"/>
<line x1="386.84" y1="312.30" x2="386.84" y2="313.70" stroke="#777" stroke-width="0.7"/>
<line x1="388.43" y1="312.30" x2="388.43" y2="313.70" stroke="#777" stroke-width="0.7"/>
<line x1="389.83" y1="312.30" x2="389.83" y2="313.70" stroke="#777" stroke-width="0.7"/>
<text x="363.72" y="321.20" font-size="10" text-anchor="middle" font-weight="normal" stroke="#111" stroke-width="0.4" textLength="13.38" lengthAdjust="spacingAndGlyphs" >0.1</text>
<line x1="391.08" y1="312.30" x2="391.08" y2="314.30" stroke="#979797" stroke-width="1"/>
<line x1="399.32" y1="312.30" x2="399.32" y2="313.70" stroke="#777" stroke-width="0.7"/>
<line x1="404.13" y1="312.30" x2="404.13" y2="313.70" stroke="#777" stroke-width="0.7"/>
<line x1="407.55" y1="312.30" x2="407.55" y2="313.70" stroke="#777" stroke-width="0.7"/>
<line x1="410.20" y1="312.30" x2="410.20" y2="313.70" stroke="#777" stroke-width="0.7"/>
<line x1="412.37" y1="312.30" x2="412.37" y2="313.70" stroke="#777" stroke-width="0.7"/>
<line x1="414.20" y1="312.30" x2="414.20" y2="313.70" stroke="#777" stroke-width="0.7"/>
<line x1="415.79" y1="312.30" x2="415.79" y2="313.70" stroke="#777" stroke-width="0.7"/>
<line x1="417.19" y1="312.30" x2="417.19" y2="313.70" stroke="#777" stroke-width="0.7"/>
<text x="391.08" y="321.20" font-size="10" text-anchor="middle" font-weight="normal" stroke="#111" stroke-width="0.4" textLength="5.35" lengthAdjust="spacingAndGlyphs" >1</text>
<line x1="418.44" y1="312.30" x2="418.44" y2="314.30" stroke="#979797" stroke-width="1"/>
<line x1="426.68" y1="312.30" x2="426.68" y2="313.70" stroke="#777" stroke-width="0.7"/>
<line x1="431.49" y1="312.30" x2="431.49" y2="313.70" stroke="#777" stroke-width="0.7"/>
<line x1="434.91" y1="312.30" x2="434.91" y2="313.70" stroke="#777" stroke-width="0.7"/>
<line x1="437.56" y1="312.30" x2="437.56" y2="313.70" stroke="#777" stroke-width="0.7"/>
<line x1="439.73" y1="312.30" x2="439.73" y2="313.70" stroke="#777" stroke-width="0.7"/>
<line x1="441.56" y1="312.30" x2="441.56" y2="313.70" stroke="#777" stroke-width="0.7"/>
<line x1="443.15" y1="312.30" x2="443.15" y2="313.70" stroke="#777" stroke-width="0.7"/>
<line x1="444.55" y1="312.30" x2="444.55" y2="313.70" stroke="#777" stroke-width="0.7"/>
<text x="418.44" y="321.20" font-size="10" text-anchor="middle" font-weight="normal" stroke="#111" stroke-width="0.4" textLength="10.70" lengthAdjust="spacingAndGlyphs" >10</text>
<line x1="445.80" y1="312.30" x2="445.80" y2="314.30" stroke="#979797" stroke-width="1"/>
<text x="445.80" y="321.20" font-size="10" text-anchor="middle" font-weight="normal" stroke="#111" stroke-width="0.4" textLength="16.05" lengthAdjust="spacingAndGlyphs" >100</text>
<path d="M317.24,294.99 L344.60,286.91 L371.96,248.83 L399.32,251.14 L426.68,266.14" fill="none" stroke="#3c3c3c" stroke-width="0.85"/>
<path d="M317.24,309.99 L344.60,286.91 L371.96,263.83 L399.32,229.21 L426.68,269.02" fill="none" stroke="#3c3c3c" stroke-width="0.85"/>
<path d="M317.24,296.14 L344.60,269.60 L371.96,224.60 L399.32,218.83 L426.68,226.90" fill="none" stroke="#3c3c3c" stroke-width="0.85"/>
<path d="M317.24,284.60 L344.60,252.29 L371.96,226.90 L399.32,240.75 L426.68,273.06" fill="none" stroke="#3c3c3c" stroke-width="0.85"/>
<path d="M317.24,296.72 L344.60,269.60 L371.96,210.75 L399.32,229.21 L426.68,241.91" fill="none" stroke="#3c3c3c" stroke-width="0.85"/>
<path d="M314.19,292.55 L320.29,292.55 L317.24,297.43 Z" fill="none" stroke="#737373" stroke-width="1.0"/>
<path d="M341.55,284.47 L347.65,284.47 L344.60,289.35 Z" fill="none" stroke="#737373" stroke-width="1.0"/>
<path d="M368.91,246.39 L375.01,246.39 L371.96,251.27 Z" fill="none" stroke="#737373" stroke-width="1.0"/>
<path d="M396.27,248.70 L402.37,248.70 L399.32,253.58 Z" fill="none" stroke="#737373" stroke-width="1.0"/>
<path d="M423.63,263.70 L429.73,263.70 L426.68,268.58 Z" fill="none" stroke="#737373" stroke-width="1.0"/>
<circle cx="317.24" cy="309.99" r="3.05" fill="none" stroke="#737373" stroke-width="1.0"/>
<circle cx="344.60" cy="286.91" r="3.05" fill="none" stroke="#737373" stroke-width="1.0"/>
<circle cx="371.96" cy="263.83" r="3.05" fill="none" stroke="#737373" stroke-width="1.0"/>
<circle cx="399.32" cy="229.21" r="3.05" fill="none" stroke="#737373" stroke-width="1.0"/>
<circle cx="426.68" cy="269.02" r="3.05" fill="none" stroke="#737373" stroke-width="1.0"/>
<path d="M314.03,296.14 L320.44,296.14 M315.63,293.37 L318.84,298.92 M318.84,293.37 L315.63,298.92" fill="none" stroke="#4a4a4a" stroke-width="0.9"/>
<path d="M341.39,269.60 L347.80,269.60 M342.99,266.83 L346.20,272.38 M346.20,266.83 L342.99,272.38" fill="none" stroke="#4a4a4a" stroke-width="0.9"/>
<path d="M368.75,224.60 L375.16,224.60 M370.35,221.82 L373.56,227.37 M373.56,221.82 L370.35,227.37" fill="none" stroke="#4a4a4a" stroke-width="0.9"/>
<path d="M396.11,218.83 L402.52,218.83 M397.71,216.05 L400.92,221.60 M400.92,216.05 L397.71,221.60" fill="none" stroke="#4a4a4a" stroke-width="0.9"/>
<path d="M423.47,226.90 L429.88,226.90 M425.07,224.13 L428.28,229.68 M428.28,224.13 L425.07,229.68" fill="none" stroke="#4a4a4a" stroke-width="0.9"/>
<rect x="314.19" y="281.55" width="6.10" height="6.10" fill="none" stroke="#737373" stroke-width="1.0"/>
<rect x="341.55" y="249.24" width="6.10" height="6.10" fill="none" stroke="#737373" stroke-width="1.0"/>
<rect x="368.91" y="223.85" width="6.10" height="6.10" fill="none" stroke="#737373" stroke-width="1.0"/>
<rect x="396.27" y="237.70" width="6.10" height="6.10" fill="none" stroke="#737373" stroke-width="1.0"/>
<rect x="423.63" y="270.01" width="6.10" height="6.10" fill="none" stroke="#737373" stroke-width="1.0"/>
<path d="M314.19,299.16 L320.29,299.16 L317.24,294.28 Z" fill="none" stroke="#737373" stroke-width="1.0"/>
<path d="M341.55,272.04 L347.65,272.04 L344.60,267.16 Z" fill="none" stroke="#737373" stroke-width="1.0"/>
<path d="M368.91,213.19 L375.01,213.19 L371.96,208.31 Z" fill="none" stroke="#737373" stroke-width="1.0"/>
<path d="M396.27,231.65 L402.37,231.65 L399.32,226.77 Z" fill="none" stroke="#737373" stroke-width="1.0"/>
<path d="M423.63,244.35 L429.73,244.35 L426.68,239.47 Z" fill="none" stroke="#737373" stroke-width="1.0"/>
<text x="276.10" y="187.30" font-size="10" text-anchor="start" font-weight="normal" stroke="#111" stroke-width="0.4" textLength="55.70" lengthAdjust="spacingAndGlyphs" >% Inhibition</text>
<text x="334.10" y="333.80" font-size="10" text-anchor="start" font-weight="normal" stroke="#111" stroke-width="0.4" textLength="86.50" lengthAdjust="spacingAndGlyphs" >Peptide Conc. (uM)</text>
<text x="478.50" y="221.90" font-size="10" text-anchor="start" font-weight="normal" stroke="#111" stroke-width="0.4" textLength="36.60" lengthAdjust="spacingAndGlyphs" >Peptide:</text>
<path d="M458.35,231.86 L464.45,231.86 L461.40,236.74 Z" fill="none" stroke="#737373" stroke-width="1.0"/>
<text x="468.50" y="236.20" font-size="9" text-anchor="start" font-weight="bold" stroke="#111" stroke-width="0.4" textLength="50.00" lengthAdjust="spacingAndGlyphs" style="stroke-width:0.15">KPIVV<tspan text-decoration="underline">V</tspan>HGY</text>
<circle cx="461.40" cy="246.70" r="3.05" fill="none" stroke="#737373" stroke-width="1.0"/>
<text x="468.50" y="249.20" font-size="9" text-anchor="start" font-weight="bold" stroke="#111" stroke-width="0.4" textLength="50.00" lengthAdjust="spacingAndGlyphs" style="stroke-width:0.15">KPIVV<tspan text-decoration="underline">Q</tspan>HGY</text>
<path d="M458.20,260.00 L464.60,260.00 M459.80,257.23 L463.00,262.77 M463.00,257.23 L459.80,262.77" fill="none" stroke="#4a4a4a" stroke-width="0.9"/>
<text x="468.50" y="262.50" font-size="9" text-anchor="start" font-weight="bold" stroke="#111" stroke-width="0.4" textLength="50.00" lengthAdjust="spacingAndGlyphs" style="stroke-width:0.15">KPIVV<tspan text-decoration="underline">T</tspan>HGY</text>
<rect x="458.35" y="270.45" width="6.10" height="6.10" fill="none" stroke="#737373" stroke-width="1.0"/>
<text x="468.50" y="276.00" font-size="9" text-anchor="start" font-weight="bold" stroke="#111" stroke-width="0.4" textLength="50.00" lengthAdjust="spacingAndGlyphs" style="stroke-width:0.15">KPIVVL<tspan text-decoration="underline">M</tspan>GY</text>
<path d="M458.35,289.44 L464.45,289.44 L461.40,284.56 Z" fill="none" stroke="#737373" stroke-width="1.0"/>
<text x="468.50" y="288.90" font-size="9" text-anchor="start" font-weight="bold" stroke="#111" stroke-width="0.4" textLength="50.00" lengthAdjust="spacingAndGlyphs" style="stroke-width:0.15">KPIVVLH<tspan text-decoration="underline">A</tspan>Y</text>
<text x="1.10" y="81.20" font-size="26.5" text-anchor="start" font-weight="normal" stroke="#111" stroke-width="0.4" textLength="18.40" lengthAdjust="spacingAndGlyphs" style="stroke-width:0.8">A</text>
<text x="1.30" y="262.10" font-size="25.6" text-anchor="start" font-weight="normal" stroke="#111" stroke-width="0.4" textLength="18.80" lengthAdjust="spacingAndGlyphs" style="stroke-width:0.85">B</text>
</g>
</svg>
</body></html>
